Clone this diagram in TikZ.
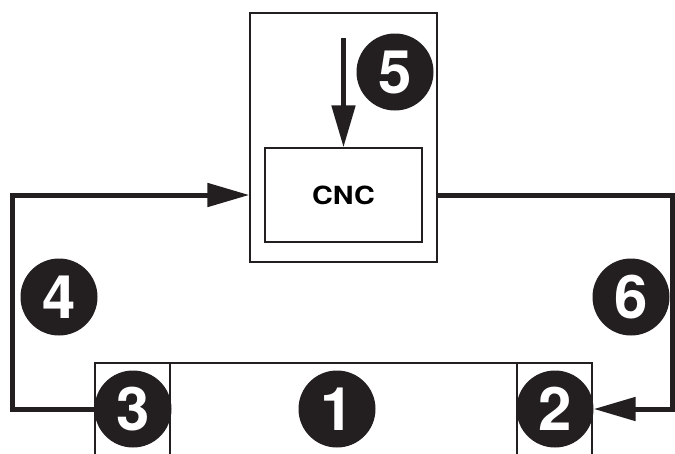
\documentclass[tikz,border=0pt]{standalone}
\usepackage{fontspec}
\newfontfamily\hv{TeX Gyre Heros}
\usetikzlibrary{arrows.meta}
\definecolor{ink}{HTML}{231F20}
\tikzset{
  num/.style={circle, fill=ink, text=white, minimum size=77pt, inner sep=0pt,
    font=\hv\bfseries\fontsize{60}{60}\selectfont},
  thinbox/.style={draw=ink, line width=1.3pt},
  flow/.style={draw=ink, line width=5pt, miter limit=10,
    -{Triangle[length=42pt, width=23pt]}},
  flowline/.style={draw=ink, line width=5pt, miter limit=10}
}
\begin{document}
\begin{tikzpicture}[x=1pt, y=-1pt]
\clip (0,0) rectangle (675,453);
\fill[white] (0,0) rectangle (675,453);
% outer machine box and CNC box
\node[thinbox, minimum width=187pt, minimum height=249pt, inner sep=0pt] (outer) at (343.5,137.5) {};
\node[thinbox, minimum width=157pt, minimum height=94pt, inner sep=0pt,
  font=\hv\bfseries\fontsize{25}{25}\selectfont] (cnc) at (343.5,195) {\scalebox{1.15}[1]{CNC}};
% bottom box
\coordinate (bl) at (95,470);
\coordinate (br) at (592,470);
\draw[thinbox] (bl) |- (592,363) -- (br);
\draw[thinbox] (170,363) -- (170,470);
\draw[thinbox] (517,363) -- (517,470);
% numbered circles
\node[num] (c1) at (337,409) {1};
\node[num] (c2) at (555,409) {2};
\node[num] (c3) at (133,409) {3};
\node[num] (c4) at (59,297) {4};
\node[num] (c5) at (395,72) {5};
\node[num] (c6) at (631,297) {6};
% connectors
\coordinate (a5) at (343.5,38);
\coordinate (l4) at (12,409);
\coordinate (r6) at (672,195);
\draw[flow] (a5) -- (cnc.north);
\draw[flow] (c3.west) -- (l4) |- (outer.west |- cnc);
\draw[flow] (outer.east |- cnc) -- (r6) |- (c2.east);
\end{tikzpicture}
\end{document}
